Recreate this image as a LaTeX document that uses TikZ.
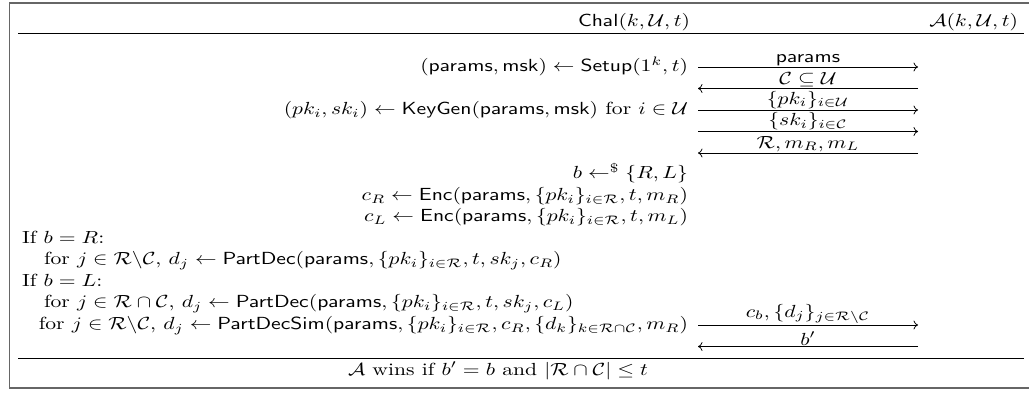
\documentclass[tikz,border=0pt]{standalone}
\usepackage{graphicx}
\usepackage{amsmath,amssymb}
\usetikzlibrary{arrows.meta,calc}
\newcommand{\hsc}{2.17}
\newcommand{\vsc}{1.76}
\newcommand{\sx}[1]{\scalebox{\hsc}[\vsc]{#1}}
\tikzset{
  txt/.style={inner sep=0pt, outer sep=0pt},
  msg/.style={line width=0.75bp, -{Computer Modern Rightarrow[length=4.5bp,width=9bp]}},
  rulel/.style={line width=0.8bp, black},
  frame/.style={line width=1.2bp, black!60}
}
\begin{document}
\begin{tikzpicture}[x=1bp, y=-1bp]
\useasboundingbox (0,0) rectangle (1029,393);
\fill[white] (0,0) rectangle (1029,393);
\draw[frame] (9.5,3) rectangle (1040,388);
% header
\node[txt, anchor=base east] (hchal) at (690,26) {\sx{$\mathsf{Chal}(k, \mathcal{U}, t)$}};
\node[txt, anchor=base east] (hadv) at (1018,26) {\sx{$\mathcal{A}(k, \mathcal{U}, t)$}};
\coordinate (hr1) at (18,33); \coordinate (hr2) at (1024,33);
\draw[rulel] (hr1) -- (hr2);
% left column (right aligned)
\node[txt, anchor=base east] (setup) at (688,71.4) {\sx{$(\mathsf{params}, \mathsf{msk}) \leftarrow \mathsf{Setup}(1^k, t)$}};
\node[txt, anchor=base east] (keygen) at (688,114.4) {\sx{$(pk_i, sk_i) \leftarrow \mathsf{KeyGen}(\mathsf{params}, \mathsf{msk})$ for $i \in \mathcal{U}$}};
\node[txt, anchor=base east] (samp) at (688,178.9) {\sx{$b \leftarrow^{\$} \{R, L\}$}};
\node[txt, anchor=base east] (encr) at (688,200.4) {\sx{$c_R \leftarrow \mathsf{Enc}(\mathsf{params}, \{pk_i\}_{i \in \mathcal{R}}, t, m_R)$}};
\node[txt, anchor=base east] (encl) at (688,221.9) {\sx{$c_L \leftarrow \mathsf{Enc}(\mathsf{params}, \{pk_i\}_{i \in \mathcal{R}}, t, m_L)$}};
% left column (left aligned)
\node[txt, anchor=base west] (ifr) at (22,243.4) {\sx{If $b = R$:}};
\node[txt, anchor=base west] (forr) at (44,264.9) {\sx{for $j \in \mathcal{R}\backslash\mathcal{C}$, $d_j \leftarrow \mathsf{PartDec}(\mathsf{params}, \{pk_i\}_{i \in \mathcal{R}}, t, sk_j, c_R)$}};
\node[txt, anchor=base west] (ifl) at (22,286.4) {\sx{If $b = L$:}};
\node[txt, anchor=base west] (forl1) at (44,307.9) {\sx{for $j \in \mathcal{R}\cap\mathcal{C}$, $d_j \leftarrow \mathsf{PartDec}(\mathsf{params}, \{pk_i\}_{i \in \mathcal{R}}, t, sk_j, c_L)$}};
\node[txt, anchor=base east] (forl2) at (688,329.4) {\sx{for $j \in \mathcal{R}\backslash\mathcal{C}$, $d_j \leftarrow \mathsf{PartDecSim}(\mathsf{params}, \{pk_i\}_{i \in \mathcal{R}}, c_R, \{d_k\}_{k \in \mathcal{R}\cap\mathcal{C}}, m_R)$}};
% messages
\foreach \n/\y in {1/67,2/88.5,3/110,4/131.5,5/153,6/325,7/346.5}{
  \coordinate (l\n) at (698,\y);
  \coordinate (r\n) at (918,\y);
}
\draw[msg] (l1) -- (r1);
\draw[msg] (r2) -- (l2);
\draw[msg] (l3) -- (r3);
\draw[msg] (l4) -- (r4);
\draw[msg] (r5) -- (l5);
\draw[msg] (l6) -- (r6);
\draw[msg] (r7) -- (l7);
\node[txt, anchor=south] (m1) at ($(l1)!0.5!(r1)+(0,-1.5)$) {\sx{$\mathsf{params}$}};
\node[txt, anchor=south] (m2) at ($(l2)!0.5!(r2)+(0,-1.5)$) {\sx{$\mathcal{C} \subseteq \mathcal{U}$}};
\node[txt, anchor=south] (m3) at ($(l3)!0.5!(r3)+(0,-1.5)$) {\sx{$\{pk_i\}_{i \in \mathcal{U}}$}};
\node[txt, anchor=south] (m4) at ($(l4)!0.5!(r4)+(0,-1.5)$) {\sx{$\{sk_i\}_{i \in \mathcal{C}}$}};
\node[txt, anchor=south] (m5) at ($(l5)!0.5!(r5)+(0,-1.5)$) {\sx{$\mathcal{R}, m_R, m_L$}};
\node[txt, anchor=south] (m6) at ($(l6)!0.5!(r6)+(0,-1.5)$) {\sx{$c_b, \{d_j\}_{j \in \mathcal{R}\backslash\mathcal{C}}$}};
\node[txt, anchor=south] (m7) at ($(l7)!0.5!(r7)+(0,-1.5)$) {\sx{$b'$}};
% footer
\coordinate (br1) at (18,358); \coordinate (br2) at (1024,358);
\draw[rulel] (br1) -- (br2);
\node[txt, anchor=base west] (win) at (348,375) {\sx{$\mathcal{A}$ wins if $b' = b$ and $|\mathcal{R}\cap\mathcal{C}| \leq t$}};
\end{tikzpicture}
\end{document}
